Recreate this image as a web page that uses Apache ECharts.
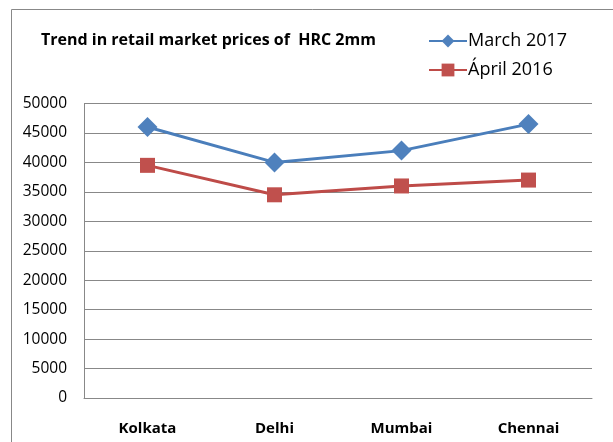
<!DOCTYPE html>
<html><head><meta charset="utf-8">
<script src="https://cdn.jsdelivr.net/npm/echarts@6/dist/echarts.min.js"></script>
<style>html,body{margin:0;padding:0;background:#fff}#c{width:613px;height:442px}</style>
</head><body><div id="c"></div>
<script>
var categories = ['Kolkata', 'Delhi', 'Mumbai', 'Chennai'];
var march2017 = [46000, 40000, 42000, 46500];
var april2016 = [39500, 34500, 36000, 37000];
var seriesNames = ['March 2017', 'Ápril 2016'];
var titleText = 'Trend in retail market prices of  HRC 2mm';

var chart = echarts.init(document.getElementById('c'));
var F = '"Open Sans", "Liberation Sans", sans-serif';
chart.setOption({
  animation: false,
  graphic: [{type: 'rect', shape: {x: 11.5, y: 9.5, width: 700, height: 500}, style: {fill: 'none', stroke: '#888', lineWidth: 1}, silent: true}],
  title: {text: titleText, left: 36, top: 27, textStyle: {fontFamily: F, fontSize: 16, fontWeight: 'bold', color: '#000'}},
  legend: {
    orient: 'vertical', left: 423, top: 27, itemWidth: 38, itemHeight: 16, itemGap: 11,
    textStyle: {fontFamily: F, fontSize: 18, color: '#000', padding: [0, 0, 0, -4]},
    data: seriesNames
  },
  grid: {left: 84, right: 21, top: 103.5, bottom: 44, containLabel: false},
  xAxis: {
    type: 'category', data: categories, boundaryGap: true,
    axisLine: {lineStyle: {color: '#888'}}, axisTick: {show: false},
    axisLabel: {fontFamily: F, fontSize: 15, fontWeight: 'bold', color: '#000', margin: 23}
  },
  yAxis: {
    type: 'value', min: 0, max: 50000, interval: 5000,
    axisLine: {show: true, lineStyle: {color: '#888'}}, axisTick: {show: false},
    splitLine: {lineStyle: {color: '#888'}},
    axisLabel: {fontFamily: F, fontSize: 15.5, color: '#000', margin: 17, formatter: function (v) { return String(v); }}
  },
  series: [
    {name: seriesNames[0], type: 'line', data: march2017, symbol: 'diamond', symbolSize: 20,
     lineStyle: {color: '#4a7ebb', width: 3}, itemStyle: {color: '#4f81bd'}},
    {name: seriesNames[1], type: 'line', data: april2016, symbol: 'rect', symbolSize: 15,
     lineStyle: {color: '#be4b48', width: 3}, itemStyle: {color: '#c0504d'}}
  ]
});
</script></body></html>
